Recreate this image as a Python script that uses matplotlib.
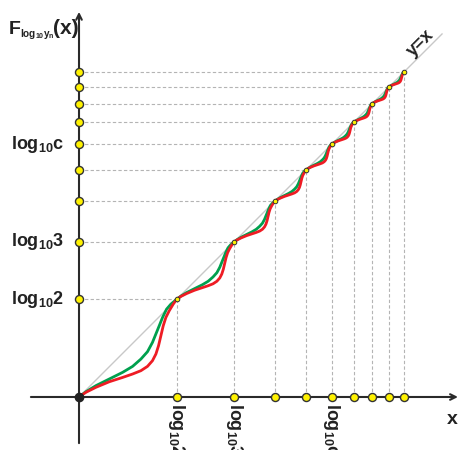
import matplotlib
matplotlib.use('Agg')
import matplotlib.pyplot as plt

plt.rcParams['mathtext.fontset'] = 'custom'
plt.rcParams['mathtext.rm'] = 'Liberation Sans'
plt.rcParams['mathtext.bf'] = 'Liberation Sans:bold'
plt.rcParams['mathtext.it'] = 'Liberation Sans:italic'

#knots at log10(1) ... log10(10)
knots = [0.0, 0.301, 0.477, 0.602, 0.699, 0.778, 0.845, 0.903, 0.954, 1.0]

t_red = [0, 0.071, 0.173, 0.31, 0.446, 0.548, 0.633, 0.70, 0.751, 0.786, 0.813, 0.837, 0.861, 0.888, 0.922, 0.963, 1]
g_red = [0, 0.048, 0.099, 0.156, 0.2, 0.235, 0.269, 0.313, 0.371, 0.439, 0.524, 0.626, 0.728, 0.813, 0.881, 0.949, 1]
t_green = [0, 0.071, 0.173, 0.31, 0.446, 0.548, 0.633, 0.70, 0.751, 0.786, 0.82, 0.854, 0.895, 0.939, 1]
g_green = [0, 0.054, 0.116, 0.184, 0.252, 0.313, 0.388, 0.463, 0.558, 0.643, 0.728, 0.813, 0.898, 0.949, 1]

#labelled knots (index into knots)
y_labels = {1: r'$\mathbf{log_{10}2}$', 2: r'$\mathbf{log_{10}3}$', 5: r'$\mathbf{log_{10}c}$'}
x_labels = {1: r'$\mathbf{log_{10}2}$', 2: r'$\mathbf{log_{10}3}$', 5: r'$\mathbf{log_{10}c}$'}

fig = plt.figure(figsize=(4.59, 4.5), dpi=100)
ax = fig.add_axes([0, 0, 1, 1])
ax.set_xlim(-0.2431, 1.1692)
ax.set_ylim(-0.1631, 1.2215)
ax.axis('off')

axis_col = '#2a2a2a'
#axes with arrows
ax.annotate('', xy=(1.166, 0), xytext=(-0.148, 0),
            arrowprops=dict(arrowstyle='->', color=axis_col, lw=1.5, shrinkA=0, shrinkB=0))
ax.annotate('', xy=(0, 1.185), xytext=(0, -0.142),
            arrowprops=dict(arrowstyle='->', color=axis_col, lw=1.5, shrinkA=0, shrinkB=0))

#y=x line
ax.plot([0, 1.117], [0, 1.117], color='#c8c8c8', lw=1.0, zorder=1)

#dashed guides
for k in knots[1:]:
    ax.plot([0, k], [k, k], color='#b4b4b4', lw=0.8, ls=(0, (3, 2)), zorder=1)
    ax.plot([k, k], [0, k], color='#b4b4b4', lw=0.8, ls=(0, (3, 2)), zorder=1)

#curves, one step per interval
def build(tp, gp):
    xs, ys = [], []
    for i in range(len(knots) - 1):
        a, b = knots[i], knots[i + 1]
        for t, g in zip(tp, gp):
            xs.append(a + t * (b - a))
            ys.append(a + g * (b - a))
    return xs, ys

gx, gy = build(t_green, g_green)
rx, ry = build(t_red, g_red)
ax.plot(gx, gy, color='#00a04e', lw=2.0, zorder=3, solid_capstyle='round', solid_joinstyle='round')
ax.plot(rx, ry, color='#ee1c24', lw=2.0, zorder=4, solid_capstyle='round', solid_joinstyle='round')

#dots
yel = '#fff200'
ax.plot(knots[1:], [0] * 9, 'o', ms=5.8, mfc=yel, mec='#333333', mew=1.0, zorder=6, clip_on=False)
ax.plot([0] * 9, knots[1:], 'o', ms=5.8, mfc=yel, mec='#333333', mew=1.0, zorder=6, clip_on=False)
ax.plot(knots[1:], knots[1:], 'o', ms=3.3, mfc=yel, mec='#333333', mew=0.7, zorder=6)
ax.plot([0], [0], 'o', ms=6, color='#222222', zorder=7)

#labels
for i, s in y_labels.items():
    ax.text(-0.047, knots[i], s, ha='right', va='center', fontsize=13, color='#222222')
for i, s in x_labels.items():
    ax.text(knots[i], -0.017, s, ha='center', va='top', rotation=-90, fontsize=13, color='#222222')

#title F_{log10 yn}(x)
ax.text(-0.216, 1.117, 'F', ha='left', va='baseline', fontsize=14, fontweight='bold',
        family='Liberation Sans', color='#222222')
ax.text(-0.181, 1.108, r'$\mathbf{log_{10}y_n}$', ha='left', va='baseline', fontsize=7.2, color='#222222')
ax.text(-0.080, 1.117, '(x)', ha='left', va='baseline', fontsize=15, fontweight='bold',
        family='Liberation Sans', color='#222222')

ax.text(1.149, -0.07, 'x', ha='center', va='center', fontsize=14, fontweight='bold',
        family='Liberation Sans', color='#222222')
ax.text(1.050, 1.090, 'y=x', ha='center', va='center', rotation=45, fontsize=13, fontweight='bold',
        family='Liberation Sans', color='#222222')

fig.savefig('out.png', dpi=100)
